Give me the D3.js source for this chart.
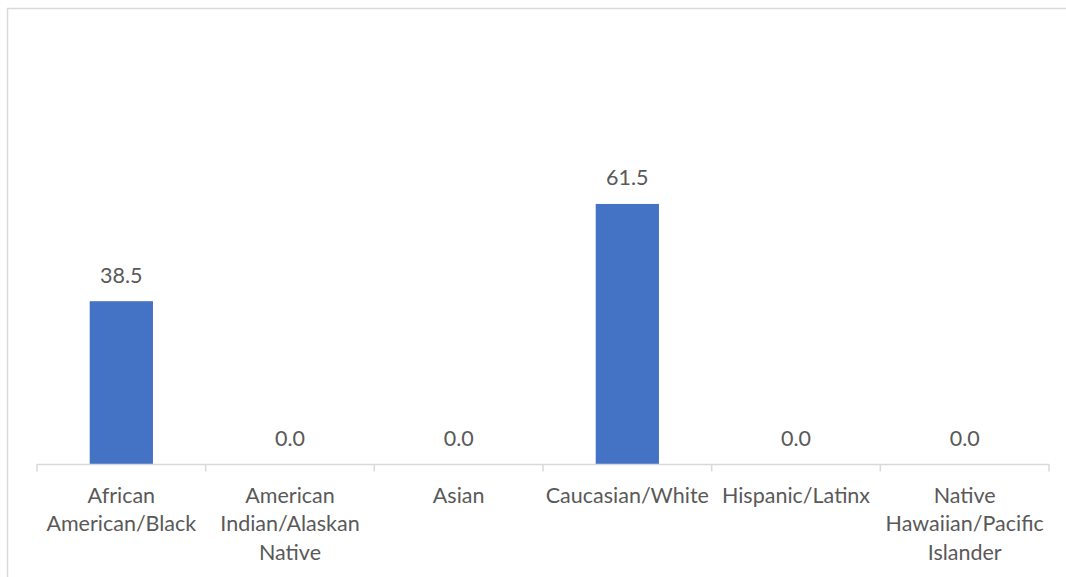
<!DOCTYPE html>
<html>
<head>
<meta charset="utf-8">
<script src="https://cdn.jsdelivr.net/npm/d3@7"></script>
<style>
  html, body { margin: 0; padding: 0; background: #fff; }
  svg { display: block; }
  text { font-family: Lato, "Open Sans", sans-serif; fill: #595959; }
</style>
</head>
<body>
<svg id="chart" width="1066" height="577"></svg>
<script>
const categories = [
  "African\nAmerican/Black",
  "American\nIndian/Alaskan\nNative",
  "Asian",
  "Caucasian/White",
  "Hispanic/Latinx",
  "Native\nHawaiian/Pacific\nIslander"
];
const values = [38.5, 0.0, 0.0, 61.5, 0.0, 0.0];

const W = 1066, H = 577;
const svg = d3.select("#chart");

// chart frame (extends beyond right/bottom edges as in reference)
svg.append("rect")
  .attr("x", 7.5).attr("y", 8.5)
  .attr("width", W + 20).attr("height", H + 20)
  .attr("fill", "none").attr("stroke", "#d9d9d9").attr("stroke-width", 1.5);

const left = 37, right = 1049, base = 464;
const x = d3.scaleBand().domain(categories).range([left, right])
  .paddingInner(0.625).paddingOuter(0.3125);
const y = d3.scaleLinear().domain([0, 70]).range([base, 168]);

const step = x.step();

// bars
svg.append("g").selectAll("rect").data(categories).join("rect")
  .attr("x", d => x(d))
  .attr("width", x.bandwidth())
  .attr("y", (d, i) => y(values[i]))
  .attr("height", (d, i) => y(0) - y(values[i]))
  .attr("fill", "#4472c4");

// axis line and ticks
const axis = svg.append("g");
axis.append("line")
  .attr("x1", left).attr("x2", right)
  .attr("y1", y(0) + 0.5).attr("y2", y(0) + 0.5)
  .attr("stroke", "#d9d9d9").attr("stroke-width", 1.5);
const bounds = categories.map(d => x(d) + x.bandwidth() / 2 - step / 2);
bounds.push(x(categories[categories.length - 1]) + x.bandwidth() / 2 + step / 2);
axis.selectAll("line.tick").data(bounds).join("line")
  .attr("class", "tick")
  .attr("x1", d => d).attr("x2", d => d)
  .attr("y1", y(0)).attr("y2", y(0) + 7.5)
  .attr("stroke", "#d9d9d9").attr("stroke-width", 1.5);

// value labels
svg.append("g").selectAll("text").data(categories).join("text")
  .attr("x", d => x(d) + x.bandwidth() / 2)
  .attr("y", (d, i) => y(values[i]) - 18.5)
  .attr("text-anchor", "middle")
  .style("font-size", "21.5px")
  .text((d, i) => values[i].toFixed(1));

// category labels
const lab = svg.append("g").selectAll("text").data(categories).join("text")
  .attr("text-anchor", "middle")
  .style("font-size", "21.5px")
  .attr("transform", d => `translate(${x(d) + x.bandwidth() / 2},0)`);
lab.selectAll("tspan").data(d => d.split("\n")).join("tspan")
  .attr("x", 0)
  .attr("y", (d, i) => 502.5 + i * 28.7)
  .text(d => d);
</script>
</body>
</html>
